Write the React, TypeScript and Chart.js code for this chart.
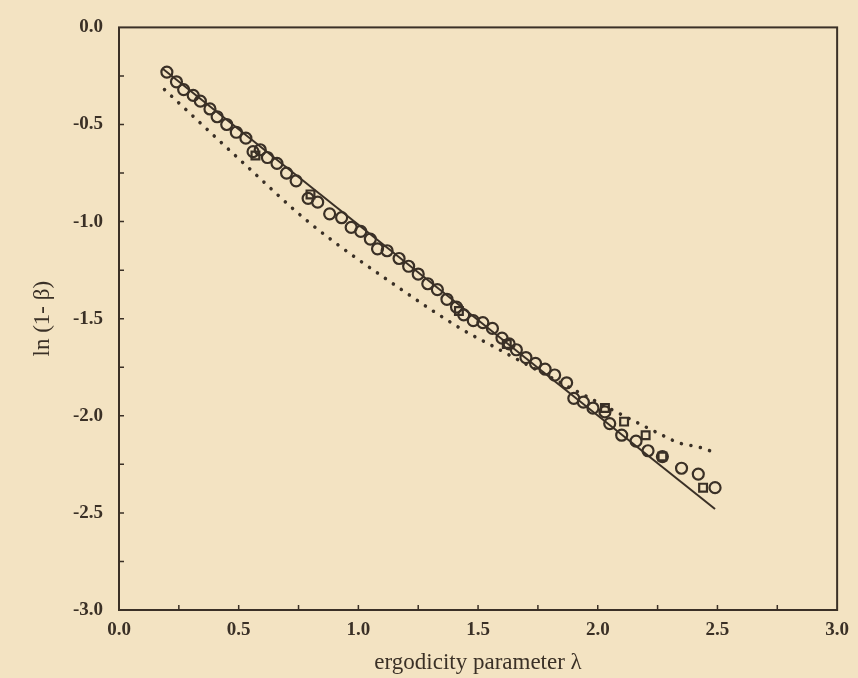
import { useEffect, useRef } from 'react';
import { Chart, registerables } from 'chart.js';

Chart.register(...registerables);

// Open circles (numerical data)
const circleX = [0.20, 0.24, 0.27, 0.31, 0.34, 0.38, 0.41, 0.45, 0.49, 0.53, 0.56, 0.59, 0.62, 0.66, 0.70, 0.74, 0.79, 0.83, 0.88, 0.93, 0.97, 1.01, 1.05, 1.08, 1.12, 1.17, 1.21, 1.25, 1.29, 1.33, 1.37, 1.41, 1.44, 1.48, 1.52, 1.56, 1.60, 1.63, 1.66, 1.70, 1.74, 1.78, 1.82, 1.87, 1.90, 1.94, 1.98, 2.03, 2.05, 2.10, 2.16, 2.21, 2.27, 2.35, 2.42, 2.49];
const circleY = [-0.23, -0.28, -0.32, -0.35, -0.38, -0.42, -0.46, -0.50, -0.54, -0.57, -0.64, -0.63, -0.67, -0.70, -0.75, -0.79, -0.88, -0.90, -0.96, -0.98, -1.03, -1.05, -1.09, -1.14, -1.15, -1.19, -1.23, -1.27, -1.32, -1.35, -1.40, -1.44, -1.48, -1.51, -1.52, -1.55, -1.60, -1.63, -1.66, -1.70, -1.73, -1.76, -1.79, -1.83, -1.91, -1.93, -1.96, -1.98, -2.04, -2.10, -2.13, -2.18, -2.21, -2.27, -2.30, -2.37];

// Open squares / polygons mixed in
const squareX = [0.57, 0.80, 1.42, 1.62, 2.03, 2.11, 2.20, 2.27, 2.44];
const squareY = [-0.66, -0.86, -1.46, -1.63, -1.96, -2.03, -2.10, -2.21, -2.37];

// Solid straight line
const fitX = [0.18, 2.49];
const fitY = [-0.21, -2.48];

// Dotted theoretical curve
const theoryX = [0.19, 0.53, 0.79, 1.18, 1.44, 1.56, 1.80, 2.27, 2.34, 2.42, 2.49];
const theoryY = [-0.32, -0.71, -1.00, -1.35, -1.56, -1.64, -1.80, -2.10, -2.14, -2.16, -2.19];

const xTicks = [0, 0.5, 1.0, 1.5, 2.0, 2.5, 3.0];
const yTicks = [0, -0.5, -1.0, -1.5, -2.0, -2.5, -3.0];

const INK = '#3a3026';
const PAPER = '#f3e3c2';
const SERIF = "'Liberation Serif', 'DejaVu Serif', serif";

const pts = (xs: number[], ys: number[]) => xs.map((x, i) => ({ x, y: ys[i] }));

export default function App() {
  const ref = useRef<HTMLCanvasElement>(null);

  useEffect(() => {
    document.body.style.margin = '0';
    const canvas = ref.current;
    if (!canvas) return;

    const framePlugin = {
      id: 'frame',
      beforeDraw(chart: any) {
        const c = chart.ctx;
        c.save();
        c.fillStyle = PAPER;
        c.fillRect(0, 0, chart.width, chart.height);
        c.restore();
      },
      afterDatasetsDraw(chart: any) {
        const c = chart.ctx;
        const a = chart.chartArea;
        const xs = chart.scales.x;
        const ys = chart.scales.y;
        c.save();
        c.strokeStyle = INK;
        c.lineWidth = 2;
        c.strokeRect(a.left, a.top, a.right - a.left, a.bottom - a.top);
        c.lineWidth = 1.5;
        c.beginPath();
        for (let v = 0.25; v < 3; v += 0.25) {
          const px = xs.getPixelForValue(v);
          c.moveTo(px, a.bottom);
          c.lineTo(px, a.bottom - 5);
        }
        for (let v = -0.25; v > -3; v -= 0.25) {
          const py = ys.getPixelForValue(v);
          c.moveTo(a.left, py);
          c.lineTo(a.left + 5, py);
        }
        c.stroke();
        c.restore();
      },
    };

    const chart = new Chart(canvas, {
      type: 'scatter',
      data: {
        datasets: [
          {
            label: 'theory',
            data: pts(theoryX, theoryY),
            showLine: true,
            borderColor: INK,
            borderWidth: 3.5,
            borderDash: [0.1, 9.6],
            borderCapStyle: 'round',
            cubicInterpolationMode: 'monotone',
            pointRadius: 0,
            order: 3,
          } as any,
          {
            label: 'fit',
            data: pts(fitX, fitY),
            showLine: true,
            borderColor: INK,
            borderWidth: 2,
            pointRadius: 0,
            order: 2,
          },
          {
            label: 'circles',
            data: pts(circleX, circleY),
            showLine: false,
            pointStyle: 'circle',
            pointRadius: 5.5,
            pointBorderWidth: 2.2,
            pointBorderColor: INK,
            pointBackgroundColor: 'rgba(0,0,0,0)',
            order: 1,
          },
          {
            label: 'squares',
            data: pts(squareX, squareY),
            showLine: false,
            pointStyle: 'rect',
            pointRadius: 5.5,
            pointBorderWidth: 2.2,
            pointBorderColor: INK,
            pointBackgroundColor: 'rgba(0,0,0,0)',
            order: 0,
          },
        ],
      },
      options: {
        animation: false,
        responsive: false,
        devicePixelRatio: 1,
        layout: { padding: { top: 25, right: 15, left: 0, bottom: 0 } },
        plugins: {
          legend: { display: false },
          tooltip: { enabled: false },
        },
        scales: {
          x: {
            type: 'linear',
            min: 0,
            max: 3,
            grid: { display: false, drawTicks: false },
            border: { display: false },
            afterFit: (s: any) => { s.height = 68; },
            afterBuildTicks: (s: any) => { s.ticks = xTicks.map((v) => ({ value: v })); },
            ticks: {
              padding: 9,
              color: INK,
              font: { family: SERIF, size: 19, weight: 'bold' },
              callback: (v: any) => Number(v).toFixed(1),
              maxRotation: 0,
              autoSkip: false,
            },
            title: {
              display: true,
              text: 'ergodicity parameter λ',
              color: INK,
              font: { family: SERIF, size: 23 },
              padding: { top: 0, bottom: 1 },
            },
          },
          y: {
            type: 'linear',
            min: -3,
            max: 0,
            grid: { display: false, drawTicks: false },
            border: { display: false },
            afterFit: (s: any) => { s.width = 119; },
            afterBuildTicks: (s: any) => { s.ticks = yTicks.map((v) => ({ value: v })); },
            ticks: {
              padding: 16,
              color: INK,
              font: { family: SERIF, size: 19, weight: 'bold' },
              callback: (v: any) => Number(v).toFixed(1),
              autoSkip: false,
            },
            title: {
              display: true,
              text: 'ln (1- β)',
              color: INK,
              font: { family: SERIF, size: 23 },
              padding: { top: 29, bottom: 0 },
            },
          },
        },
      },
      plugins: [framePlugin],
    } as any);

    return () => chart.destroy();
  }, []);

  return (
    <div style={{ width: 858, height: 678, background: PAPER }}>
      <canvas ref={ref} width={858} height={678} style={{ display: 'block' }} />
    </div>
  );
}
